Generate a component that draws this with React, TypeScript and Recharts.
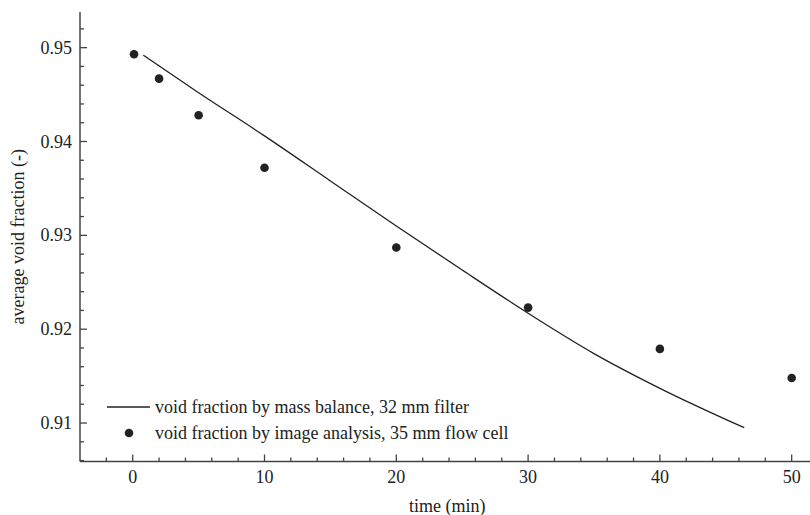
import { ComposedChart, Line, Scatter, XAxis, YAxis, Legend } from 'recharts';

// void fraction by mass balance (continuous curve)
const MASS_TIME = [0.8, 5, 10, 15, 20, 25, 30, 35, 40, 46.4];
const MASS_VOID = [0.9492, 0.9452, 0.9406, 0.9358, 0.931, 0.9263, 0.9217, 0.9174, 0.9137, 0.9095];

// void fraction by image analysis (dots)
const IMAGE_TIME = [0.1, 2, 5, 10, 20, 30, 40, 50];
const IMAGE_VOID = [0.9493, 0.9467, 0.9428, 0.9372, 0.9287, 0.9223, 0.9179, 0.9148];

const X_TICKS = [-2, 0, 2, 4, 6, 8, 10, 12, 14, 16, 18, 20, 22, 24, 26, 28, 30, 32, 34, 36, 38, 40, 42, 44, 46, 48, 50, 52];
const Y_TICKS = [0.906, 0.908, 0.91, 0.912, 0.914, 0.916, 0.918, 0.92, 0.922, 0.924, 0.926, 0.928, 0.93, 0.932, 0.934, 0.936, 0.938, 0.94, 0.942, 0.944, 0.946, 0.948, 0.95, 0.952];

const LINE_LABEL = 'void fraction by mass balance, 32 mm filter';
const DOT_LABEL = 'void fraction by image analysis, 35 mm flow cell';

const massData = MASS_TIME.map((t, i) => ({ t, v: MASS_VOID[i] }));
const imageData = IMAGE_TIME.map((t, i) => ({ t, v: IMAGE_VOID[i] }));

const FONT = "'Liberation Serif', 'DejaVu Serif', serif";
const INK = '#222';
const AXIS = '#444';

const isMajorX = (v: number) => v % 10 === 0;
const isMajorY = (v: number) => Math.abs(v * 100 - Math.round(v * 100)) < 1e-6;

function BottomTick({ x, y, payload }: any) {
  const major = isMajorX(payload.value);
  return (
    <g>
      <line x1={x} x2={x} y1={y} y2={y - (major ? 7 : 4)} stroke={AXIS} strokeWidth={1.3} />
      {major && (
        <text x={x} y={y + 21} textAnchor="middle" fontSize={18} fontFamily={FONT} fill={INK}>
          {payload.value}
        </text>
      )}
    </g>
  );
}

function TopTick({ x, y, payload }: any) {
  const major = isMajorX(payload.value);
  return <line x1={x} x2={x} y1={y} y2={y + (major ? 7 : 4)} stroke={AXIS} strokeWidth={1.3} />;
}

function LeftTick({ x, y, payload }: any) {
  const major = isMajorY(payload.value);
  return (
    <g>
      <line x1={x} x2={x + (major ? 7 : 4)} y1={y} y2={y} stroke={AXIS} strokeWidth={1.3} />
      {major && (
        <text x={x - 8} y={y + 6} textAnchor="end" fontSize={18} fontFamily={FONT} fill={INK}>
          {payload.value.toFixed(2)}
        </text>
      )}
    </g>
  );
}

function LegendBox() {
  const row = { display: 'flex', alignItems: 'center', height: 26, whiteSpace: 'nowrap' as const };
  return (
    <div style={{ fontFamily: FONT, fontSize: 18, color: INK, lineHeight: '26px' }}>
      <div style={row}>
        <svg width={52} height={26}>
          <line x1={4} x2={47} y1={13} y2={13} stroke={INK} strokeWidth={1.3} />
        </svg>
        <span>{LINE_LABEL}</span>
      </div>
      <div style={row}>
        <svg width={52} height={26}>
          <circle cx={26} cy={13} r={4.3} fill={INK} />
        </svg>
        <span>{DOT_LABEL}</span>
      </div>
    </div>
  );
}

export default function App() {
  return (
    <div style={{ position: 'absolute', left: 0, top: 0, width: 810, height: 515, overflow: 'hidden', background: '#fff' }}>
      <ComposedChart width={860} height={515} margin={{ top: 12, right: 15.6, bottom: 0, left: 0 }}>
        <XAxis
          xAxisId="bottom"
          dataKey="t"
          type="number"
          domain={[-4, 54]}
          allowDataOverflow
          ticks={X_TICKS}
          interval={0}
          height={53.5}
          tickSize={0}
          tickMargin={0}
          tickLine={false}
          tick={<BottomTick />}
          axisLine={{ stroke: AXIS, strokeWidth: 1.5 }}
          label={{ value: 'time (min)', position: 'insideBottom', offset: 3, dx: -15, fontSize: 18, fontFamily: FONT, fill: INK }}
        />
        <XAxis
          xAxisId="top"
          orientation="top"
          dataKey="t"
          type="number"
          domain={[-4, 54]}
          allowDataOverflow
          ticks={X_TICKS}
          interval={0}
          height={0}
          tickSize={0}
          tickMargin={0}
          tickLine={false}
          tick={<TopTick />}
          axisLine={{ stroke: AXIS, strokeWidth: 1.5 }}
        />
        <YAxis
          type="number"
          domain={[0.9059, 0.9538]}
          allowDataOverflow
          ticks={Y_TICKS}
          interval={0}
          width={80}
          tickSize={0}
          tickMargin={0}
          tickLine={false}
          tick={<LeftTick />}
          axisLine={{ stroke: AXIS, strokeWidth: 1.5 }}
          label={{
            value: 'average void fraction (-)',
            angle: -90,
            position: 'insideLeft',
            offset: 18,
            style: { textAnchor: 'middle' },
            fontSize: 18,
            fontFamily: FONT,
            fill: INK,
          }}
        />
        <Line
          xAxisId="bottom"
          data={massData}
          dataKey="v"
          type="monotone"
          stroke={INK}
          strokeWidth={1.3}
          dot={false}
          activeDot={false}
          isAnimationActive={false}
        />
        <Scatter
          xAxisId="bottom"
          data={imageData}
          dataKey="v"
          fill={INK}
          shape={(p: any) => <circle cx={p.cx} cy={p.cy} r={4.3} fill={INK} />}
          isAnimationActive={false}
        />
        <Legend
          layout="vertical"
          align="center"
          verticalAlign="middle"
          content={<LegendBox />}
          wrapperStyle={{ position: 'absolute', left: 103, top: 394, width: 'auto', height: 'auto' }}
        />
      </ComposedChart>
    </div>
  );
}
